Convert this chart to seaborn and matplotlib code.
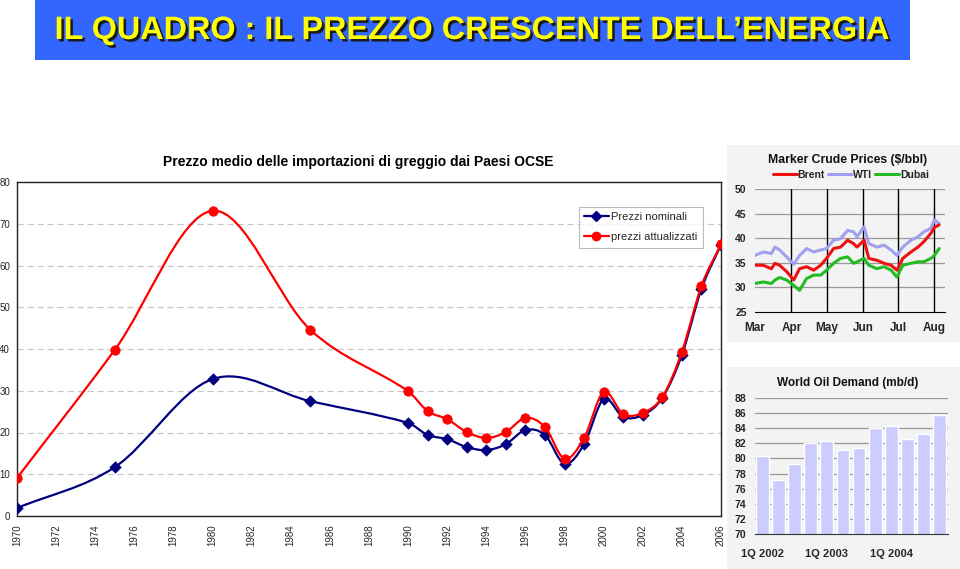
import numpy as np
import pandas as pd
import matplotlib
matplotlib.use("Agg")
from matplotlib import pyplot as plt
from matplotlib.path import Path
from matplotlib.patches import PathPatch, Rectangle
from matplotlib.lines import Line2D
import matplotlib.patheffects as pe
import seaborn as sns

# main chart data
years = [1970, 1975, 1980, 1985, 1990, 1991, 1992, 1993, 1994, 1995, 1996, 1997,
         1998, 1999, 2000, 2001, 2002, 2003, 2004, 2005, 2006]
nominali = [1.9, 11.7, 32.8, 27.5, 22.3, 19.4, 18.4, 16.5, 15.8, 17.2, 20.6, 19.4,
            12.5, 17.2, 28.0, 23.7, 24.2, 28.3, 38.6, 54.4, 65.0]
attualizzati = [9.1, 39.8, 73.1, 44.6, 29.9, 25.1, 23.2, 20.1, 18.7, 20.1, 23.5, 21.3,
                13.7, 18.7, 29.7, 24.4, 24.7, 28.5, 39.3, 55.1, 65.1]

# marker crude prices inset
crude_dates = ["2004-03-01", "2004-03-08", "2004-03-15", "2004-03-18", "2004-03-22",
               "2004-03-28", "2004-04-03", "2004-04-08", "2004-04-14", "2004-04-20",
               "2004-04-26", "2004-05-01", "2004-05-07", "2004-05-13", "2004-05-19",
               "2004-05-24", "2004-05-27", "2004-06-02", "2004-06-06", "2004-06-13",
               "2004-06-19", "2004-06-25", "2004-06-30", "2004-07-05", "2004-07-12",
               "2004-07-18", "2004-07-23", "2004-07-29", "2004-08-01", "2004-08-05"]
brent = [34.5, 34.5, 33.8, 34.9, 34.5, 33.2, 31.5, 33.8, 34.2, 33.5, 34.5, 35.9, 37.9,
         38.2, 39.6, 38.9, 38.2, 39.6, 35.9, 35.5, 34.9, 34.5, 33.5, 35.9, 37.2, 38.2,
         39.3, 41.0, 42.2, 42.7]
wti = [36.5, 37.2, 36.9, 38.2, 37.6, 36.2, 34.7, 36.5, 37.9, 37.2, 37.6, 37.9, 39.6,
       39.9, 41.6, 41.3, 40.3, 42.3, 38.9, 38.2, 38.6, 37.6, 36.5, 38.2, 39.6, 40.3,
       41.3, 42.0, 43.7, 43.0]
dubai = [30.8, 31.1, 30.8, 31.5, 32.0, 31.5, 30.4, 29.4, 31.8, 32.5, 32.5, 33.5, 34.9,
         35.9, 36.2, 34.9, 35.2, 35.9, 34.5, 33.8, 34.2, 33.5, 32.1, 34.5, 34.9, 35.2,
         35.2, 35.9, 36.5, 37.9]
month_starts = ["2004-03-01", "2004-04-01", "2004-05-01", "2004-06-01", "2004-07-01", "2004-08-01"]
month_names = ["Mar", "Apr", "May", "Jun", "Jul", "Aug"]

# world oil demand inset
quarters = ["1Q 2002", "2Q 2002", "3Q 2002", "4Q 2002", "1Q 2003", "2Q 2003",
            "3Q 2003", "4Q 2003", "1Q 2004", "2Q 2004", "3Q 2004", "4Q 2004"]
demand = [80.3, 77.1, 79.2, 82.0, 82.3, 81.1, 81.4, 84.0, 84.3, 82.6, 83.2, 85.8]

sns.set_style("white")
plt.rcParams['font.family'] = ['Liberation Sans', 'DejaVu Sans']

W, H = 960, 569
fig = plt.figure(figsize=(9.6, 5.69), dpi=100)


def box(x0, y0, x1, y1):
    """pixel box (top-left origin) -> figure fraction rect"""
    return [x0 / W, 1 - y1 / H, (x1 - x0) / W, (y1 - y0) / H]


def panel(x0, y0, x1, y1, color):
    r = box(x0, y0, x1, y1)
    fig.patches.append(Rectangle((r[0], r[1]), r[2], r[3], transform=fig.transFigure,
                                 facecolor=color, edgecolor='none', zorder=-5))


def smooth_line(ax, xs, ys, color, z):
    """Excel-like smoothed line: cubic bezier segments through the points"""
    n = len(xs)
    sl = []
    for i in range(n):
        if i == 0:
            sl.append((ys[1] - ys[0]) / (xs[1] - xs[0]))
        elif i == n - 1:
            sl.append((ys[-1] - ys[-2]) / (xs[-1] - xs[-2]))
        else:
            sl.append((ys[i + 1] - ys[i - 1]) / (xs[i + 1] - xs[i - 1]))
    verts = [(xs[0], ys[0])]
    codes = [Path.MOVETO]
    for i in range(n - 1):
        h = (xs[i + 1] - xs[i]) / 3
        verts += [(xs[i] + h, ys[i] + h * sl[i]),
                  (xs[i + 1] - h, ys[i + 1] - h * sl[i + 1]),
                  (xs[i + 1], ys[i + 1])]
        codes += [Path.CURVE4] * 3
    ax.add_patch(PathPatch(Path(verts, codes), fill=False, edgecolor=color, lw=1.6, zorder=z))


# banner
panel(35, 0, 910, 60, '#3366ff')
fig.text(472 / W, 1 - 31 / H, "IL QUADRO : IL PREZZO CRESCENTE DELL’ENERGIA",
         family=['Liberation Sans Narrow', 'Liberation Sans', 'DejaVu Sans'],
         fontweight='bold', fontsize=23.3, color='#ffff00', ha='center', va='center',
         path_effects=[pe.SimplePatchShadow(offset=(1.8, -1.8), shadow_rgbFace='#1a1a1a', alpha=1),
                       pe.Normal()])

# main chart
ax = fig.add_axes(box(17, 182, 721, 516))
smooth_line(ax, years, nominali, '#000080', 2)
smooth_line(ax, years, attualizzati, '#ff0000', 4)
sns.scatterplot(x=years, y=nominali, marker='D', color='#000080', edgecolor='#000080',
                s=34, ax=ax, zorder=3, legend=False)
sns.scatterplot(x=years, y=attualizzati, marker='o', color='#ff0000', edgecolor='#ff0000',
                s=46, ax=ax, zorder=5, legend=False)
ax.set_xlim(1970, 2006)
ax.set_ylim(0, 80)
ax.set_xticks(range(1970, 2007, 2))
ax.set_xticklabels([str(y) for y in range(1970, 2007, 2)], rotation=90, fontsize=7)
ax.set_yticks(range(0, 81, 10))
ax.set_yticklabels([str(v) for v in range(0, 81, 10)], fontsize=7)
ax.tick_params(axis='x', length=3, pad=3, color='#333333')
ax.tick_params(axis='y', length=0, pad=5)
for v in range(10, 80, 10):
    ax.axhline(v, color='#c8c8c8', lw=0.9, ls=(0, (5, 3)), zorder=1)
for s in ax.spines.values():
    s.set_color('#222222')
    s.set_linewidth(1)
ax.set_xlabel("")
ax.set_ylabel("")
handles = [Line2D([], [], color='#000080', marker='D', markersize=5, lw=1.6),
           Line2D([], [], color='#ff0000', marker='o', markersize=6, lw=1.6)]
leg = ax.legend(handles, ["Prezzi nominali", "prezzi attualizzati"], loc='upper left',
                bbox_to_anchor=(0.79, 0.943), fontsize=8, frameon=True, fancybox=False,
                handlelength=2.2, handletextpad=0.2, borderpad=0.5, labelspacing=0.9)
leg.get_frame().set_edgecolor('#aaaaaa')
leg.get_frame().set_linewidth(0.8)
fig.text(358 / W, 1 - 162 / H, "Prezzo medio delle importazioni di greggio dai Paesi OCSE",
         fontsize=10, fontweight='bold', ha='center', va='center', color='black')

# crude prices inset
panel(727, 145, 960, 342, '#f3f3f3')
ax2 = fig.add_axes(box(755, 189, 945, 312))
ax2.set_facecolor('#f3f3f3')
crude = pd.DataFrame({"date": pd.to_datetime(crude_dates), "Brent": brent, "WTI": wti, "Dubai": dubai})
crude_long = crude.melt(id_vars="date", var_name="serie", value_name="prezzo")
sns.lineplot(data=crude_long, x="date", y="prezzo", hue="serie",
             palette={"Brent": '#ee1111', "WTI": '#a0a0f0', "Dubai": '#22bb22'},
             hue_order=["WTI", "Brent", "Dubai"], lw=2.2, ax=ax2, legend=False, zorder=3)
ms = pd.to_datetime(month_starts)
ax2.set_xlim(ms[0], ms[0] + pd.Timedelta(days=162))
ax2.set_ylim(25, 50)
ax2.set_yticks(range(25, 51, 5))
ax2.set_yticklabels([str(v) for v in range(25, 51, 5)], fontsize=7.5, fontweight='bold')
ax2.set_xticks(ms)
ax2.set_xticklabels(month_names, fontsize=8.5, fontweight='bold')
for v in range(30, 51, 5):
    ax2.axhline(v, color='#999999', lw=0.9, zorder=1)
for d in ms[1:]:
    ax2.axvline(d, color='black', lw=1, zorder=1.5)
for k in ['top', 'right', 'left']:
    ax2.spines[k].set_visible(False)
ax2.spines['bottom'].set_color('black')
ax2.tick_params(axis='x', length=3, pad=6, direction='inout')
ax2.tick_params(axis='y', length=0, pad=6)
ax2.set_xlabel("")
ax2.set_ylabel("")
fig.text(848 / W, 1 - 160 / H, "Marker Crude Prices ($/bbl)", fontsize=8.8,
         fontweight='bold', ha='center', va='center', color='#111111')
chand = [Line2D([], [], color='#ee1111', lw=2.2), Line2D([], [], color='#a0a0f0', lw=2.2),
         Line2D([], [], color='#22bb22', lw=2.2)]
fig.legend(chand, ["Brent", "WTI", "Dubai"], loc='center', bbox_to_anchor=(851 / W, 1 - 175 / H),
           ncol=3, frameon=False, prop={'size': 7.5, 'weight': 'bold'}, handlelength=2.3,
           handletextpad=0.1, columnspacing=0.3)

# world oil demand inset
panel(727, 367, 960, 569, '#f3f3f3')
ax3 = fig.add_axes(box(754.5, 398, 947.5, 534))
ax3.set_facecolor('#f3f3f3')
sns.barplot(x=quarters, y=demand, color='#ccccff', saturation=1, width=0.8, ax=ax3, zorder=2)
ax3.set_xlim(-0.5, 11.5)
ax3.set_ylim(70, 88)
ax3.set_yticks(range(70, 89, 2))
ax3.set_yticklabels([str(v) for v in range(70, 89, 2)], fontsize=7.5, fontweight='bold')
for v in range(72, 89, 2):
    ax3.axhline(v, color='#999999', lw=0.9, zorder=0)
ax3.set_xticks([0, 4, 8])
ax3.set_xticklabels([quarters[0], quarters[4], quarters[8]], fontsize=8, fontweight='bold')
ax3.set_xticks(np.arange(-0.5, 12, 1), minor=True)
ax3.tick_params(axis='x', which='major', length=0, pad=11)
ax3.tick_params(axis='x', which='minor', length=4, direction='inout', color='#333333')
ax3.tick_params(axis='y', length=0, pad=6)
for k in ['top', 'right', 'left']:
    ax3.spines[k].set_visible(False)
ax3.spines['bottom'].set_color('#333333')
ax3.set_xlabel("")
ax3.set_ylabel("")
fig.text(848 / W, 1 - 383 / H, "World Oil Demand (mb/d)", fontsize=8.5,
         fontweight='bold', ha='center', va='center', color='#111111')

fig.savefig("out.png", dpi=100)
